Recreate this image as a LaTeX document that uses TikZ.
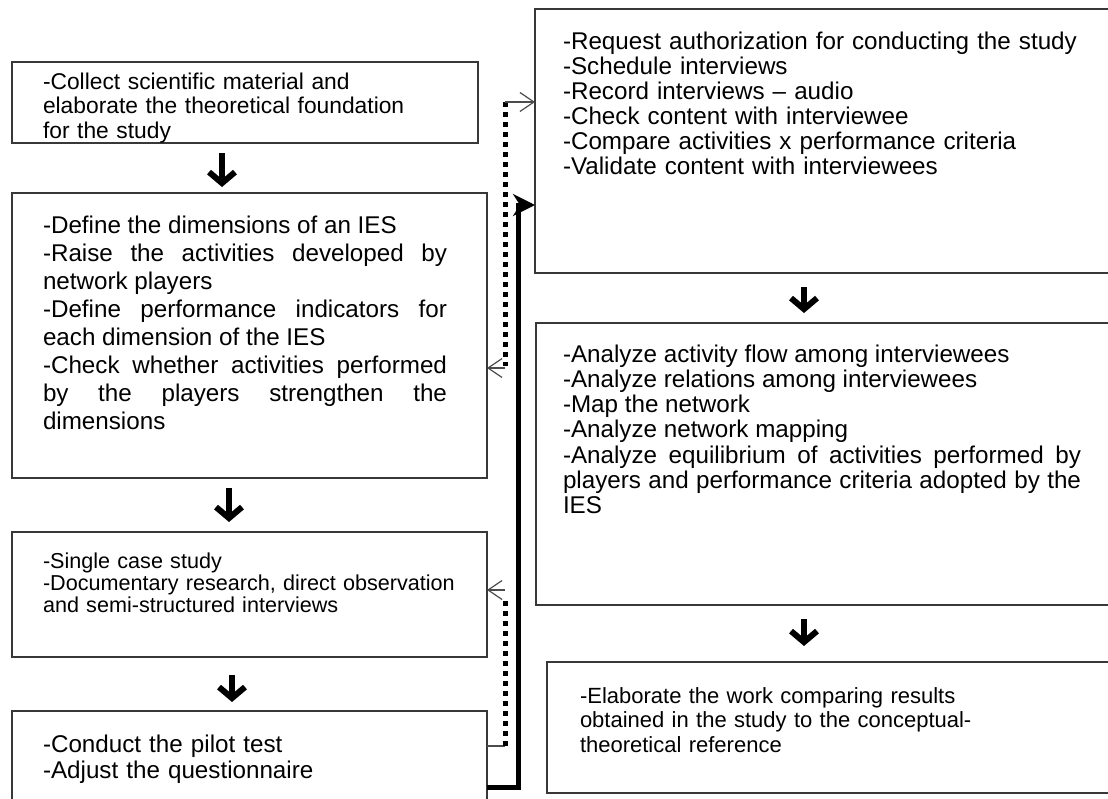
\documentclass[tikz,border=0pt]{standalone}
\usepackage{fontspec}
\setmainfont{Liberation Sans}
\usetikzlibrary{arrows.meta,calc}
\hyphenpenalty=10000
\exhyphenpenalty=10000
\tolerance=10000
\begin{document}
\begin{tikzpicture}[x=1pt,y=-1pt,
  box/.style={draw=black!78,line width=1.6pt,anchor=north west,inner sep=0pt,outer sep=0pt},
  txt/.style={anchor=base west,inner sep=0pt,outer sep=0pt},
  bigarrow/.style={line width=6pt,-{Straight Barb[sharp,length=11pt,width=26pt]}},
  dotline/.style={line width=5pt,dash pattern=on 5pt off 5pt},
  thinline/.style={line width=1.2pt,draw=black!70},
  thinarrow/.style={line width=1.2pt,draw=black!70,-{Straight Barb[length=14pt,width=19pt]}},
  bigline/.style={line width=5pt,line join=miter,-{Stealth[length=22pt,width=22pt,inset=7pt]}}
]
\useasboundingbox (0,0) rectangle (1108,798);
% boxes
\node[box,minimum width=466pt,minimum height=81pt] (L1) at (12,62) {};
\node[box,minimum width=475pt,minimum height=285pt] (L2) at (12,193) {};
\node[box,minimum width=475pt,minimum height=125pt] (L3) at (12,532) {};
\node[box,minimum width=475pt,minimum height=120pt] (L4) at (12,711) {};
\node[box,minimum width=600pt,minimum height=264pt] (R1) at (535,9) {};
\node[box,minimum width=600pt,minimum height=282pt] (R2) at (536,323) {};
\node[box,minimum width=600pt,minimum height=131pt] (R3) at (547,662) {};
% texts
\node[txt,text width=430pt,align=left,font=\fontsize{22.8}{24.5}\selectfont] (L1t) at (43,89)
 {-Collect scientific material and\\elaborate the theoretical foundation\\for the study};
\node[txt,text width=404pt,align=justify,font=\fontsize{24.2}{28}\selectfont] (L2t) at (43,233)
 {-Define the dimensions of an IES\par
  -Raise the activities developed by\linebreak network players\par
  -Define performance indicators for\linebreak each dimension of the IES\par
  -Check whether activities performed\linebreak by the players strengthen the\linebreak dimensions};
\node[txt,text width=430pt,align=left,font=\fontsize{21.6}{22}\selectfont] (L3t) at (43,568)
 {-Single case study\\-Documentary research, direct observation\\and semi-structured interviews};
\node[txt,text width=430pt,align=left,font=\fontsize{24.2}{26.7}\selectfont] (L4t) at (43,752)
 {-Conduct the pilot test\\-Adjust the questionnaire};
\node[txt,text width=535pt,align=left,font=\fontsize{24.2}{25}\selectfont] (R1t) at (563,49)
 {-Request authorization for conducting the study\\-Schedule interviews\\-Record interviews -- audio\\-Check content with interviewee\\-Compare activities x performance criteria\\-Validate content with interviewees};
\node[txt,text width=518pt,align=justify,font=\fontsize{24.2}{25.3}\selectfont] (R2t) at (563,362)
 {-Analyze activity flow among interviewees\par
  -Analyze relations among interviewees\par
  -Map the network\par
  -Analyze network mapping\par
  -Analyze equilibrium of activities performed by\linebreak players and performance criteria adopted by the\linebreak IES};
\node[txt,text width=520pt,align=left,font=\fontsize{22}{24.8}\selectfont] (R3t) at (580,703)
 {-Elaborate the work comparing results\\obtained in the study to the conceptual-\\theoretical reference};
% arrow columns
\coordinate (ax1) at (222,0);
\coordinate (ax2) at (229,0);
\coordinate (ax3) at (232,0);
\coordinate (axr) at (804,0);
\draw[bigarrow] ([yshift=-10pt]L1.south -| ax1) -- ([yshift=6pt]L2.north -| ax1);
\draw[bigarrow] ([yshift=-10pt]L2.south -| ax2) -- ([yshift=10pt]L3.north -| ax2);
\draw[bigarrow] ([yshift=-18pt]L3.south -| ax3) -- ([yshift=9pt]L4.north -| ax3);
\draw[bigarrow] ([yshift=-14pt]R1.south -| axr) -- ([yshift=10pt]R2.north -| axr);
\draw[bigarrow] ([yshift=-14pt]R2.south -| axr) -- ([yshift=16pt]R3.north -| axr);
% dotted feedback links
\coordinate (dt) at (505,102);
\coordinate (db) at (505,368);
\draw[dotline] (dt) -- (505,366);
\draw[thinarrow] (dt) -- (dt -| R1.west);
\draw[thinarrow] (db) -- (db -| L2.east);
\coordinate (ds) at (505,746);
\coordinate (de) at (505,590);
\draw[thinline] (ds -| L4.east) -- (ds);
\draw[dotline] (ds) -- (505,597);
\draw[thinarrow] (de) -- (de -| L3.east);
% solid link from pilot test to data collection
\coordinate (sb) at (518,787);
\coordinate (st) at (518,205);
\draw[bigline] (sb -| L4.east) -- (sb) -- (st) -- (st -| R1.west);
\end{tikzpicture}
\end{document}
